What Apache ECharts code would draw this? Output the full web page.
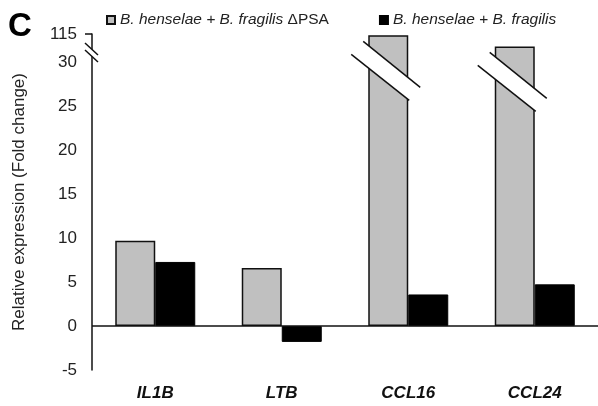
<!DOCTYPE html>
<html>
<head>
<meta charset="utf-8">
<script src="https://cdn.jsdelivr.net/npm/echarts@6/dist/echarts.min.js"></script>
<style>
html,body{margin:0;padding:0;background:#fff;}
#c{width:598px;height:406px;}
</style>
</head>
<body>
<div id="c"></div>
<script>
// ---- data ----
var categories = ['IL1B', 'LTB', 'CCL16', 'CCL24'];
var seriesNames = ['B. henselae + B. fragilis ΔPSA', 'B. henselae + B. fragilis'];
var psaValues = [9.7, 6.6, 111, 78];
var wtValues = [7.3, -1.8, 3.6, 4.75];
var tickValues = [-5, 0, 5, 10, 15, 20, 25, 30, 115];

// broken axis: 30..115 compressed into a short segment
var BREAK_LO = 30, BREAK_HI = 115, TOP_DISPLAY = 33.25;
function toDisplay(v) {
  return v <= BREAK_LO ? v : BREAK_LO + (v - BREAK_LO) * (TOP_DISPLAY - BREAK_LO) / (BREAK_HI - BREAK_LO);
}
function fromDisplay(d) {
  return d <= BREAK_LO + 1e-6 ? d : BREAK_LO + (d - BREAK_LO) * (BREAK_HI - BREAK_LO) / (TOP_DISPLAY - BREAK_LO);
}

var FONT = 'Liberation Sans, Arial, sans-serif';
var chart = echarts.init(document.getElementById('c'), null, {renderer: 'canvas'});

var option = {
  animation: false,
  backgroundColor: '#fff',
  textStyle: {fontFamily: FONT},
  grid: {left: 92, top: 34, width: 508, bottom: 36, containLabel: false},
  legend: {
    left: 101, top: 7,
    itemWidth: 8, itemHeight: 8, itemGap: 50,
    icon: 'rect',
    data: seriesNames,
    formatter: function (name) {
      var i = name.indexOf('ΔPSA');
      if (i >= 0) return '{i|' + name.slice(0, i).trim() + '} {n|ΔPSA}';
      return '{i|' + name + '}';
    },
    textStyle: {
      fontSize: 15.5, color: '#222', fontFamily: FONT,
      rich: {
        i: {fontStyle: 'italic', fontSize: 15.5, color: '#222', fontFamily: FONT},
        n: {fontSize: 15.5, color: '#222', fontFamily: FONT}
      }
    }
  },
  xAxis: {
    type: 'category',
    data: categories,
    position: 'bottom',
    axisLine: {show: false, onZero: false},
    axisTick: {show: false},
    axisLabel: {
      margin: 15, fontSize: 17, fontWeight: 'bold', fontStyle: 'italic',
      color: '#111', fontFamily: FONT
    }
  },
  yAxis: {
    type: 'value',
    min: -5, max: TOP_DISPLAY,
    splitLine: {show: false},
    axisLine: {show: true, lineStyle: {color: '#111', width: 1.5}},
    axisTick: {show: true, customValues: [toDisplay(115)], length: 7, lineStyle: {color: '#111', width: 1.5}},
    axisLabel: {
      customValues: tickValues.map(toDisplay),
      formatter: function (d) { return String(Math.round(fromDisplay(d))); },
      margin: 15, fontSize: 17, color: '#222', fontFamily: FONT
    },
    name: 'Relative expression (Fold change)',
    nameLocation: 'middle',
    nameGap: 64,
    nameTextStyle: {fontSize: 17, color: '#222', fontFamily: FONT}
  },
  series: [
    {
      name: seriesNames[0],
      type: 'bar',
      barWidth: 40,
      barGap: '0%',
      data: psaValues.map(toDisplay),
      itemStyle: {color: '#c0c0c0', borderColor: '#111', borderWidth: 1.5},
      markLine: {
        silent: true, symbol: 'none', animation: false,
        label: {show: false},
        lineStyle: {color: '#111', width: 1.5, type: 'solid'},
        data: [{yAxis: 0}]
      },
      z: 2
    },
    {
      name: seriesNames[1],
      type: 'bar',
      barWidth: 40,
      data: wtValues.map(toDisplay),
      itemStyle: {color: '#000', borderColor: '#000', borderWidth: 1},
      z: 2
    }
  ],
  graphic: [
    {type: 'text', left: 8, top: 10, z: 100,
     style: {text: 'C', font: 'bold 33px ' + FONT, fill: '#000'}}
  ]
};
chart.setOption(option);

// break marks on the broken bars and on the y axis
function addBreaks() {
  var g = [];
  var data = chart.getModel().getSeriesByIndex(0).getData();
  psaValues.forEach(function (v, i) {
    if (v <= BREAK_LO) return;
    var l = data.getItemLayout(i);
    var x = Math.min(l.x, l.x + l.width), w = Math.abs(l.width);
    var top = Math.min(l.y, l.y + l.height);
    var u1 = [x - 5, top + 6], u2 = [x + w + 12, top + 52];
    var d1 = [x - 17, top + 19], d2 = [x + w + 1, top + 65];
    g.push({type: 'polygon', z: 100, silent: true,
      shape: {points: [u1, u2, d2, d1]}, style: {fill: '#fff', stroke: null}});
    g.push({type: 'line', z: 101, silent: true,
      shape: {x1: u1[0], y1: u1[1], x2: u2[0], y2: u2[1]}, style: {stroke: '#111', lineWidth: 1.5}});
    g.push({type: 'line', z: 101, silent: true,
      shape: {x1: d1[0], y1: d1[1], x2: d2[0], y2: d2[1]}, style: {stroke: '#111', lineWidth: 1.5}});
  });
  var p = chart.convertToPixel({gridIndex: 0}, [0, TOP_DISPLAY]);
  var axX = option.grid.left;
  var top = p[1];
  var a1 = [axX - 7, top + 9], a2 = [axX + 6, top + 21];
  var b1 = [axX - 7, top + 16], b2 = [axX + 6, top + 28];
  g.push({type: 'polygon', z: 100, silent: true,
    shape: {points: [a1, a2, b2, b1]}, style: {fill: '#fff', stroke: null}});
  g.push({type: 'line', z: 101, silent: true,
    shape: {x1: a1[0], y1: a1[1], x2: a2[0], y2: a2[1]}, style: {stroke: '#111', lineWidth: 1.5}});
  g.push({type: 'line', z: 101, silent: true,
    shape: {x1: b1[0], y1: b1[1], x2: b2[0], y2: b2[1]}, style: {stroke: '#111', lineWidth: 1.5}});
  chart.setOption({graphic: option.graphic.concat(g)});
}
addBreaks();
</script>
</body>
</html>
